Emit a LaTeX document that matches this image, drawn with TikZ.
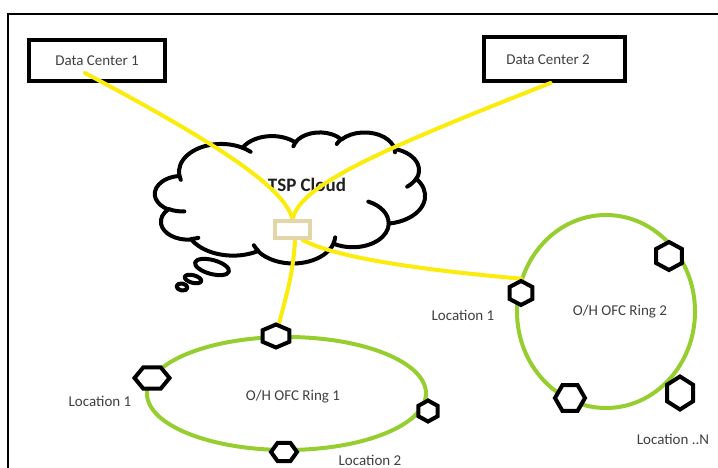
\documentclass[tikz,border=0pt]{standalone}
\usepackage{fontspec}
\setmainfont{Carlito}
\usetikzlibrary{shapes.geometric}
\pgfdeclarelayer{front}
\pgfsetlayers{main,front}
\definecolor{fiber}{RGB}{250,236,12}
\definecolor{ringgreen}{RGB}{150,206,48}
\definecolor{hubtan}{RGB}{226,214,168}
\definecolor{labelgray}{RGB}{64,64,64}
\definecolor{titleblack}{RGB}{32,32,32}
% elliptic arc given by radii, start angle and sweep (angles measured from the centre)
\newcommand\oarc[4]{arc[start angle={atan2((#1)*sin(#3),(#2)*cos(#3))},
  delta angle={mod(atan2((#1)*sin((#3)+(#4)),(#2)*cos((#3)+(#4)))-atan2((#1)*sin(#3),(#2)*cos(#3))+720,360)},
  x radius=#1, y radius=#2]}
\begin{document}
\begin{tikzpicture}[x=1pt,y=-1pt,
  dcbox/.style={draw=black, line width=4pt, fill=white, inner sep=0,
    font=\fontsize{15}{18}\selectfont, text=labelgray},
  lbl/.style={font=\fontsize{15}{18}\selectfont, text=labelgray, inner sep=0},
  fiberline/.style={draw=fiber, line width=4pt, line cap=round},
  ring/.style={ellipse, draw=ringgreen, line width=4pt, inner sep=0},
  hexbase/.style={regular polygon, regular polygon sides=6, draw=black,
    line width=4pt, fill=white, inner sep=0, transform shape},
  hexflat/.style={hexbase},
  hexpoint/.style={hexbase, shape border rotate=30},
  cloudline/.style={draw=black, line width=4pt, line cap=round, line join=round}]
\useasboundingbox (0,0) rectangle (718,468);

% frame
\draw[line width=2pt] (8,470) -- (8,14) -- (720,14);

% cloud outline
\begin{scope}[shift={(155,132)}, xscale=0.625, yscale=0.3032]
  \draw[cloudline, fill=white] (39.00,143.70)
    \oarc{67.53}{91.90}{-190.487}{123.781}
    \oarc{53.33}{72.67}{-144.102}{89.945}
    \oarc{43.65}{59.45}{-145.808}{99.723}
    \oarc{48.57}{65.95}{-130.986}{117.242}
    \oarc{53.33}{72.73}{-78.709}{109.027}
    \oarc{67.75}{92.20}{-46.267}{130.269}
    \oarc{57.85}{78.67}{0.625}{114.033}
    \oarc{67.52}{92.15}{22.452}{115.173}
    \oarc{77.20}{105.43}{66.243}{75.711}
    \oarc{43.60}{59.18}{-274.942}{146.736}
    \oarc{43.45}{59.45}{-246.829}{152.519} -- cycle;
  % inner puff creases
  \draw[cloudline]
    (46.93,261.77) \oarc{43.45}{59.45}{86.742}{26.430}
    (69.28,348.99) \oarc{43.60}{59.18}{73.610}{11.447}
    (164.78,390.90) \oarc{67.52}{92.15}{137.624}{14.081}
    (288.27,347.51) \oarc{67.52}{92.15}{6.453}{15.998}
    (341.29,229.54) \oarc{57.85}{78.67}{-70.292}{70.917}
    (417.98,153.54) \oarc{53.33}{72.73}{30.318}{27.752}
    (383.24,54.26) \oarc{48.57}{65.95}{-13.744}{14.859}
    (290.78,39.52) \oarc{48.57}{65.95}{-149.181}{18.195}
    (221.41,47.20) \oarc{43.65}{59.45}{-163.494}{17.686}
    (140.00,51.92) \oarc{67.53}{91.90}{-66.707}{12.319}
    (41.27,157.89) \oarc{67.53}{91.90}{157.654}{11.858};
\end{scope}
% thought bubbles
\draw[cloudline, fill=white, rotate around={-15:(212,267)}] (212,267) ellipse[x radius=17.5, y radius=7];
\draw[cloudline, fill=white, rotate around={-15:(193,279)}] (193,279) ellipse[x radius=8.5, y radius=3.8];
\draw[cloudline, fill=white, rotate around={-10:(182,287)}] (182,287) ellipse[x radius=5.5, y radius=3.5];

\node[font=\bfseries\fontsize{19}{22}\selectfont, text=titleblack, inner sep=0] (tsp) at (307,185) {TSP Cloud};

% data centres
\node[dcbox, minimum width=136pt, minimum height=41pt] (dc1) at (97,60.5) {Data Center 1};
\node[dcbox, minimum width=141pt, minimum height=44pt] (dc2) at (554.5,59) {};
\node[lbl] (dc2txt) at (548,60) {Data Center 2};

% fibre rings
\node[ring, minimum width=279pt, minimum height=113pt] (ring1) at (286.5,393.5) {};
\node[ring, minimum width=178pt, minimum height=193pt] (ring2) at (606,311.5) {};
\node[lbl] (ring1txt) at (293,397) {O/H OFC Ring 1};
\node[lbl] (ring2txt) at (620,312) {O/H OFC Ring 2};
\node[lbl] (r1loc1) at (100,401) {Location 1};
\node[lbl] (r1loc2) at (370,460) {Location 2};
\node[lbl] (r2loc1) at (463,315) {Location 1};
\node[lbl] (r2locn) at (673,439) {Location ..N};

% sites and hub box
\begin{pgfonlayer}{front}
  \node[hexpoint, minimum size=23pt, xscale=1.35] (r1t) at (276,336) {};
  \node[hexflat, minimum size=35pt, yscale=0.7] (r1l) at (152,378) {};
  \node[hexpoint, minimum size=21pt, xscale=1.05] (r1r) at (428,411) {};
  \node[hexflat, minimum size=26pt, yscale=0.8] (r1b) at (284,452) {};
  \node[hexpoint, minimum size=24pt, xscale=1.1] (r2l) at (521,293) {};
  \node[hexpoint, minimum size=28pt, xscale=1.07] (r2tr) at (669,256) {};
  \node[hexflat, minimum size=30pt] (r2bl) at (570,398) {};
  \node[hexpoint, minimum size=33pt, xscale=0.91] (r2br) at (680,393) {};
  \node[draw=hubtan, line width=3.6pt, fill=white, inner sep=0,
        minimum width=35pt, minimum height=17pt] (hub) at (292.5,229.5) {};
\end{pgfonlayer}

% fibre links
\draw[fiberline] ([shift={(-12,12.5)}]dc1.center) .. controls (230,150) and (285,190) .. (hub.north);
\draw[fiberline] ([xshift=-4pt]dc2.south) .. controls (380,150) and (300,185) .. (hub.north);
\draw[fiberline] ([xshift=2.5pt]hub.south) .. controls (293,280) and (283,305) .. (r1t.center);
\draw[fiberline] ([xshift=10pt]hub.south) .. controls (330,255) and (400,268) .. (r2l.north);
\end{tikzpicture}
\end{document}
